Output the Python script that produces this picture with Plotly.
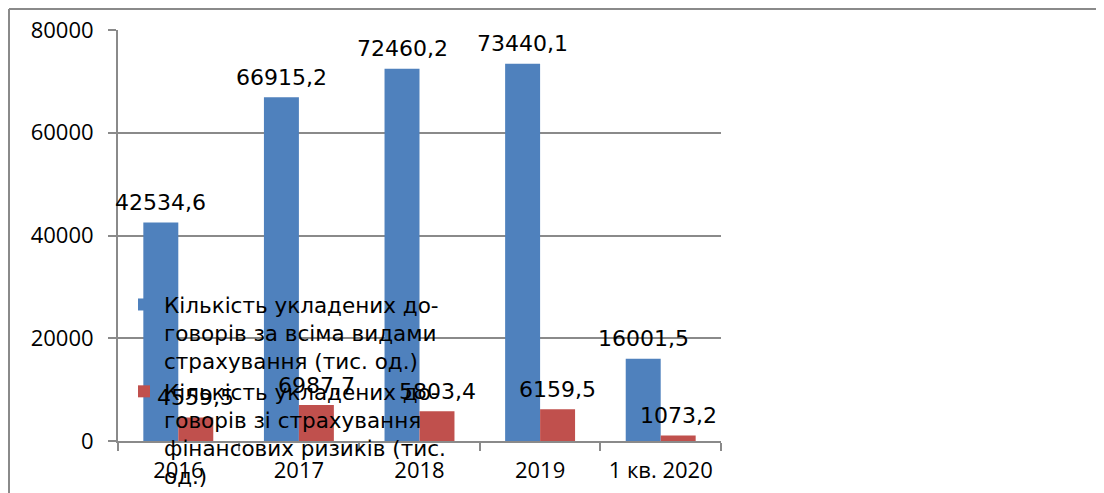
import plotly.graph_objects as go

categories = ["2016", "2017", "2018", "2019", "1 кв. 2020"]
total_contracts = [42534.6, 66915.2, 72460.2, 73440.1, 16001.5]
financial_contracts = [4559.5, 6987.7, 5803.4, 6159.5, 1073.2]
series_names = [
    "Кількість укладених до-<br>говорів за всіма видами<br>страхування (тис. од.)",
    "Кількість укладених до-<br>говорів зі страхування<br>фінансових ризиків (тис.<br>од.)",
]
series_colors = ["#4F81BD", "#C0504D"]
y_ticks = [0, 20000, 40000, 60000, 80000]

def fmt(v):
    return f"{v:.1f}".replace(".", ",")

# page is offset by the 8px body margin: figure coords = page coords - 8
W, H = 1104, 493
L, R, T, B = 110, 713, 22, 433
GRID = "#8a8a8a"
pw = R - L
ph = B - T
bar_px = 35

fig = go.Figure()
annotations = []
for i, (vals, name, col) in enumerate(zip([total_contracts, financial_contracts], series_names, series_colors)):
    fig.add_trace(go.Bar(
        x=categories, y=vals, name=name,
        marker=dict(color=col, line=dict(width=0)),
    ))
    shift = (-0.5 if i == 0 else 0.5) * bar_px
    for j, v in enumerate(vals):
        annotations.append(dict(
            x=j, y=v, xref="x", yref="y", text=fmt(v), showarrow=False,
            xanchor="center", yanchor="middle", xshift=shift, yshift=20,
            font=dict(family="DejaVu Sans", size=22, color="black"),
        ))

fig.update_layout(
    width=W, height=H,
    margin=dict(l=L, r=W - R, t=T, b=H - B, pad=0, autoexpand=False),
    paper_bgcolor="white", plot_bgcolor="white",
    barmode="group", bargap=0.42, bargroupgap=0,
    showlegend=True,
    legend=dict(
        x=(116 - L) / pw, y=(B - 276) / ph, xanchor="left", yanchor="top",
        bgcolor="rgba(0,0,0,0)", font=dict(family="DejaVu Sans", size=21.5, color="black"),
        valign="top", itemwidth=30, tracegroupgap=0,
    ),
    xaxis=dict(
        type="category", categoryorder="array", categoryarray=categories,
        range=[-0.5, len(categories) - 0.5], autorange=False,
        showline=True, linecolor=GRID, linewidth=2,
        ticks="outside", tickson="boundaries", ticklen=8, tickcolor=GRID, tickwidth=2,
        tickfont=dict(family="Open Sans", size=22, color="black"),
        ticklabelstandoff=9,
        showgrid=False,
    ),
    yaxis=dict(
        range=[0, 80000], autorange=False, tickvals=y_ticks, ticktext=[str(v) for v in y_ticks],
        showline=True, linecolor=GRID, linewidth=2,
        ticks="outside", ticklen=8, tickcolor=GRID, tickwidth=2,
        showgrid=True, gridcolor=GRID, gridwidth=2,
        tickfont=dict(family="Open Sans", size=22, color="black"),
        ticklabelstandoff=10,
        zeroline=False,
    ),
    annotations=annotations,
    shapes=[
        dict(type="line", xref="paper", yref="paper",
             x0=(1 - L) / pw, x1=(1 - L) / pw, y0=(B - 1) / ph, y1=(B - 500) / ph,
             line=dict(color=GRID, width=2)),
        dict(type="line", xref="paper", yref="paper",
             x0=(1 - L) / pw, x1=(1110 - L) / pw, y0=(B - 1) / ph, y1=(B - 1) / ph,
             line=dict(color=GRID, width=2)),
    ],
)

fig.write_html("out.html")
